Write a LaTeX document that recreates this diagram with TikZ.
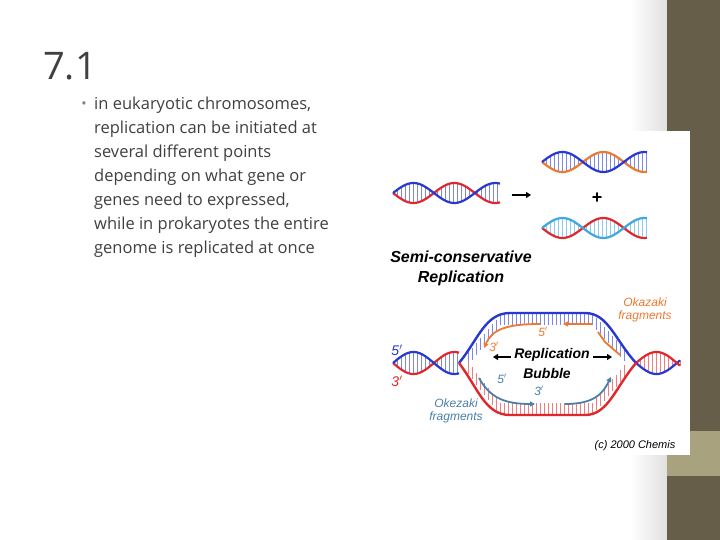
\documentclass[tikz,border=0pt]{standalone}
\usepackage{fontspec}
\setmainfont{Open Sans}
\newfontfamily\arialf{Liberation Sans}
\usetikzlibrary{arrows.meta}
\definecolor{olive}{HTML}{665E48}
\definecolor{lolive}{HTML}{A8A37E}
\definecolor{dred}{HTML}{E0282C}
\definecolor{dblue}{HTML}{2838D0}
\definecolor{dorange}{HTML}{EE7A30}
\definecolor{lblue}{HTML}{40A8E0}
\definecolor{sblue}{HTML}{4A7FA8}
\definecolor{txt}{HTML}{404040}
\newcommand{\myhelix}[6]{% x0 x1 yc amp colA colB
  \pgfmathtruncatemacro\hsecond{#1+4}
  \foreach \xx in {#1,\hsecond,...,#2}{\draw[#6!60,line width=0.6pt] (\xx,{#3+#4*sin(4.4*(\xx-#1))}) -- (\xx,{#3-#4*sin(4.4*(\xx-#1))});}
  \draw[#5,line width=2.2pt] plot[domain=#1:#2,samples=60] (\x,{#3+#4*sin(4.4*(\x-#1))});
  \draw[#6,line width=2.2pt] plot[domain=#1:#2,samples=60] (\x,{#3-#4*sin(4.4*(\x-#1))});
}
\tikzset{lab/.style={font=\arialf\itshape\fontsize{12}{13}\selectfont},
 big/.style={font=\arialf\bfseries\itshape\fontsize{14}{16}\selectfont},
 bl/.style={anchor=west,font=\fontsize{16.5}{18}\selectfont,text=txt,inner sep=0}}
\begin{document}
\begin{tikzpicture}[x=1pt,y=-1pt]
\useasboundingbox (0,0) rectangle (720,540);
\fill[white] (0,0) rectangle (720,540);
\shade[left color=white,right color=black!12] (630,0) rectangle (667,540);
\fill[olive] (667,0) rectangle (720,540);
\fill[lolive] (667,431) rectangle (720,476);
\node[anchor=west,font=\fontsize{38}{40}\selectfont,text=txt,inner sep=0] (t) at (43,66) {7.1};
\node[text=black!50,font=\fontsize{14}{14}\selectfont,inner sep=0] (b) at (84,105) {•};
\node[bl] (l1) at (94,105) {in eukaryotic chromosomes,};
\node[bl] (l2) at (94,129) {replication can be initiated at};
\node[bl] (l3) at (94,153) {several different points};
\node[bl] (l4) at (94,177) {depending on what gene or};
\node[bl] (l5) at (94,201) {genes need to expressed,};
\node[bl] (l6) at (94,225) {while in prokaryotes the entire};
\node[bl] (l7) at (94,249) {genome is replicated at once};
\fill[white] (383,131) rectangle (690,455);
% top helices
\myhelix{393}{500}{193}{10}{dred}{dblue}
\myhelix{542}{647}{162}{10}{dorange}{dblue}
\myhelix{542}{647}{228}{10}{dred}{lblue}
\draw[line width=2pt,-{Triangle[length=5pt,width=6pt]}] (512,195) -- (531,195);
\node[font=\arialf\bfseries\fontsize{18}{18}\selectfont,inner sep=0] (plus) at (597,198) {+};
\node[big,font=\arialf\bfseries\itshape\fontsize{16}{18}\selectfont] (s1) at (461,257) {Semi-conservative};
\node[big,font=\arialf\bfseries\itshape\fontsize{16}{18}\selectfont] (s2) at (461,278) {Replication};
% bubble
\myhelix{393}{459}{363}{11}{dred}{dblue}
\myhelix{636}{680}{363}{11}{dblue}{dred}
\foreach \xx in {468,472,...,627}{
 \draw[dblue!60,line width=0.6pt] (\xx,{\xx<500?363-48*(\xx-459)/41:(\xx>592?313+50*(\xx-592)/44:313)}) -- ++(0,12);
 \draw[dred!60,line width=0.6pt] (\xx,{\xx<500?363+52*(\xx-459)/41:(\xx>592?415-52*(\xx-592)/44:415)}) -- ++(0,-12);}
\draw[dblue,line width=2.4pt] (459,363) .. controls (478,340) and (485,313) .. (510,313) -- (585,313) .. controls (608,313) and (615,340) .. (636,363);
\draw[dred,line width=2.4pt] (459,363) .. controls (478,388) and (485,415) .. (510,415) -- (585,415) .. controls (608,415) and (615,388) .. (636,363);
\draw[dorange,line width=1.8pt,-{Triangle[length=5pt,width=5pt]}] (540,324) .. controls (505,324) and (492,330) .. (484,348);
\draw[dorange,line width=1.8pt,-{Triangle[length=5pt,width=5pt]}] (592,324) -- (563,324);
\draw[dorange,line width=1.8pt] (598,332) -- (605,342) -- (620,355);
\draw[sblue,line width=1.8pt,-{Triangle[length=5pt,width=5pt]}] (479,378) .. controls (490,398) and (505,404) .. (535,404);
\draw[sblue,line width=1.8pt,-{Triangle[length=5pt,width=5pt]}] (565,404) .. controls (595,404) and (603,393) .. (611,377);
\draw[line width=2.2pt,-{Triangle[length=5pt,width=6pt]}] (511,357) -- (493,357);
\draw[line width=2.2pt,-{Triangle[length=5pt,width=6pt]}] (593,357) -- (612,357);
\node[big] (r1) at (552,355) {Replication};
\node[big] (r2) at (547,373) {Bubble};
\node[lab,text=dblue,font=\arialf\itshape\fontsize{14}{14}\selectfont] (f5) at (397,350) {5$'$};
\node[lab,text=dred,font=\arialf\itshape\fontsize{14}{14}\selectfont] (f3) at (397,381) {3$'$};
\node[lab,text=dorange] (o5) at (543,332) {5$'$};
\node[lab,text=dorange] (o3) at (494,347) {3$'$};
\node[lab,text=sblue] (b5) at (502,379) {5$'$};
\node[lab,text=sblue] (b3) at (539,391) {3$'$};
\node[lab,text=dorange,align=center] (ok1) at (645,310) {Okazaki\\fragments};
\node[lab,text=sblue,align=center] (ok2) at (456,411) {Okezaki\\fragments};
\node[lab,font=\arialf\itshape\fontsize{11}{12}\selectfont] (c) at (635,446) {(c) 2000 Chemis};
\end{tikzpicture}
\end{document}
